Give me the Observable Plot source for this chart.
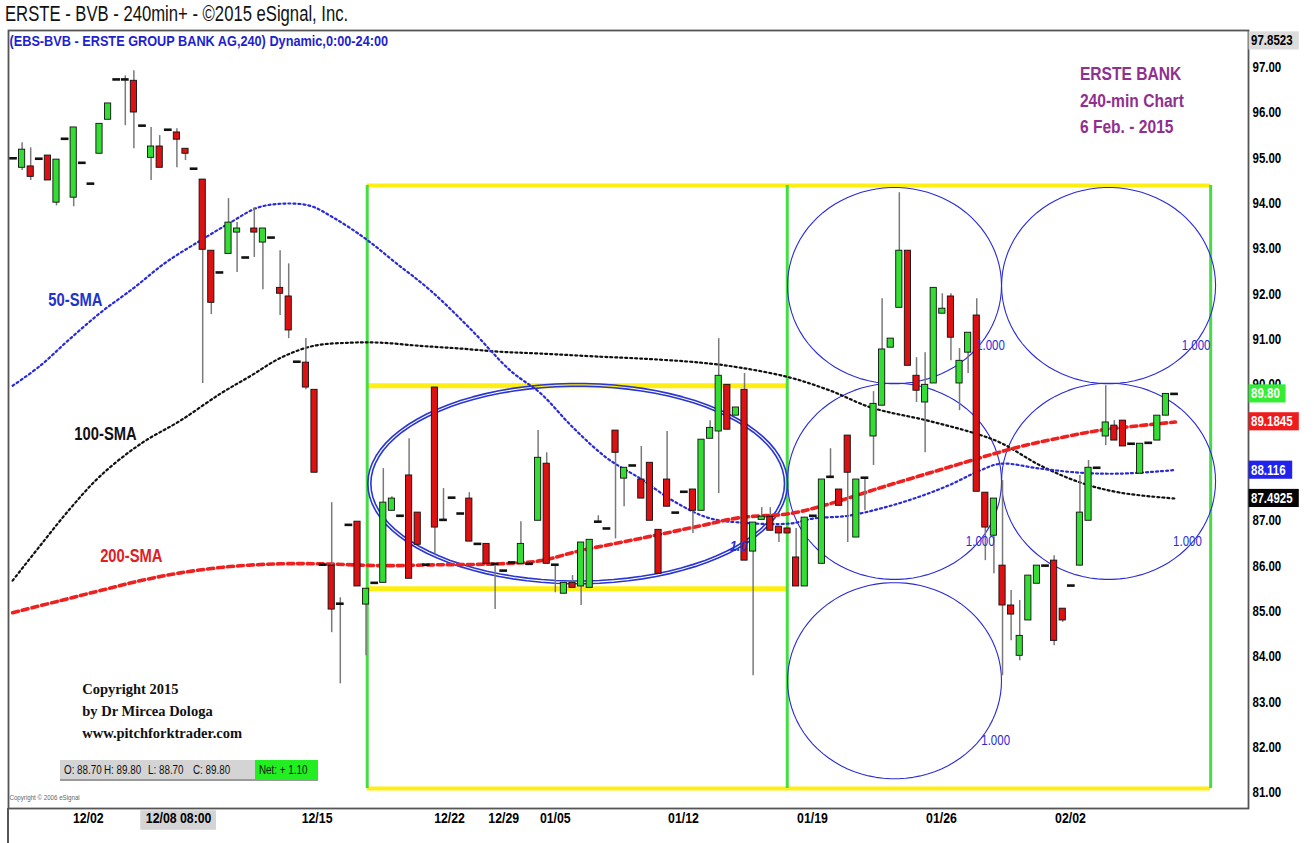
<!DOCTYPE html>
<html><head><meta charset="utf-8">
<script src="https://cdn.jsdelivr.net/npm/d3@7"></script>
<script src="https://cdn.jsdelivr.net/npm/@observablehq/plot@0.6"></script>
<style>
body{margin:0;background:#fff;}
#wrap{position:relative;width:1314px;height:843px;overflow:hidden;background:#fff;}
.nar{font-family:'Liberation Sans',Arial,sans-serif;}
#title{position:absolute;left:5px;top:1px;font-size:22px;color:#111;white-space:nowrap;transform-origin:0 0;}
#chart{position:absolute;left:0;top:30px;}
#ohlc{position:absolute;left:60px;top:760px;width:258px;height:19px;background:#d4d4d4;border-bottom:2px solid #9a9a9a;font-size:12px;color:#111;}
#ohlc span{position:absolute;top:3px;white-space:nowrap;transform:scaleX(0.82);transform-origin:0 0;}
#net{position:absolute;left:195px;top:0;width:63px;height:19px;background:#22ee22;}
#lborder{position:absolute;left:7px;top:808px;width:2px;height:35px;background:#555;}
</style></head>
<body>
<div id="wrap">
  <div id="title" class="nar">ERSTE - BVB - 240min+ - ©2015 eSignal, Inc.</div>
  <div id="chart"></div>
  <div id="lborder"></div>
  <div id="ohlc" class="nar"><div id="net"></div>
    <span style="left:4px">O: 88.70</span><span style="left:44px">H: 89.80</span>
    <span style="left:88px">L: 88.70</span><span style="left:133px">C: 89.80</span>
    <span style="left:199px">Net: + 1.10</span></div>
</div>
<script>
// ---------- candle data (bar index = position in arrays) ----------
const open = [95.00,94.79,94.82,94.99,95.06,94.02,95.43,94.13,94.90,94.44,95.10,95.85,96.74,96.74,96.71,95.72,95.01,95.26,95.63,95.57,
95.21,94.77,94.53,92.96,92.48,92.89,93.36,92.81,93.45,93.14,93.25,92.14,91.95,90.51,90.49,89.89,86.03,86.01,85.17,86.91,
86.98,85.15,85.63,85.63,87.22,87.11,88.00,87.18,86.03,89.94,87.02,87.51,87.16,87.49,86.49,86.49,86.05,85.90,86.08,86.05,
86.05,87.00,88.26,86.03,85.39,85.63,85.55,85.52,86.98,86.83,88.99,87.93,88.22,87.91,88.28,86.80,87.91,87.18,87.64,87.69,
87.22,88.81,88.97,90.00,89.32,89.89,86.32,87.02,87.09,86.87,86.83,86.19,85.55,87.11,86.05,87.97,87.69,88.88,86.63,87.95,
88.86,89.54,90.82,91.70,92.96,90.20,89.61,90.03,91.57,91.95,90.03,90.71,91.53,87.62,86.67,86.01,85.13,84.02,84.80,85.61,
86.01,86.12,85.06,85.57,86.01,87.00,88.17,88.86,89.10,89.21,88.70,88.04,88.72,88.77,89.32,89.80];
const high = [95.00,95.34,95.23,94.99,95.06,94.97,95.43,95.68,94.90,94.44,95.76,96.21,96.74,96.82,96.93,95.72,95.68,95.50,95.63,95.65,
95.21,94.77,94.53,92.96,92.48,94.11,93.58,92.81,93.91,93.45,93.25,92.96,92.67,90.51,91.02,89.89,86.03,87.40,85.30,86.91,
86.98,85.50,85.63,88.15,87.53,87.11,88.81,87.18,86.03,89.94,87.71,87.51,87.16,87.62,86.49,86.49,86.05,85.90,86.08,86.98,
86.05,88.99,88.50,86.03,85.63,85.79,86.52,86.58,87.11,86.83,88.99,88.17,88.22,88.64,88.28,86.80,88.97,87.18,87.64,87.69,
88.79,89.21,91.02,90.00,89.50,90.25,86.96,87.29,87.29,86.87,86.83,86.83,87.07,87.11,87.91,88.59,87.69,88.88,87.91,87.95,
89.85,91.90,91.02,94.24,92.96,90.60,90.71,92.14,92.01,92.01,90.80,91.15,91.90,87.62,87.49,87.89,85.46,85.24,85.79,86.01,
86.01,86.23,85.06,85.57,88.00,88.33,88.17,89.98,89.21,89.21,88.70,88.70,88.72,89.32,89.80,89.80];
const low = [95.00,94.73,94.51,94.99,94.51,93.95,95.43,93.93,94.90,94.44,95.10,95.85,96.74,95.72,95.21,95.72,94.51,94.79,95.63,94.79,
94.95,94.77,90.03,91.55,92.48,92.89,92.48,92.81,92.81,92.10,93.25,91.53,91.02,90.51,89.89,88.06,86.03,84.53,83.40,86.91,
85.55,84.02,85.63,85.63,87.22,87.11,85.72,86.47,86.03,86.27,87.02,87.51,87.16,86.54,86.49,86.05,85.04,85.90,86.08,86.05,
86.05,87.00,86.05,85.41,85.39,85.52,85.13,85.52,86.98,86.83,86.60,87.31,88.22,87.49,87.00,85.83,87.31,87.18,87.64,86.72,
87.22,88.81,87.60,89.01,89.32,86.12,83.58,87.02,86.78,86.52,86.72,85.55,85.55,87.11,86.05,87.97,87.33,86.52,86.63,87.22,
88.22,89.54,90.82,91.70,90.42,89.61,88.50,90.03,91.57,90.53,89.43,90.25,87.64,86.12,85.83,83.58,84.35,83.91,84.80,85.61,
86.01,84.24,84.76,85.57,86.01,87.00,88.17,88.66,88.77,88.64,88.70,88.04,88.72,88.77,89.32,89.80];
const close = [95.00,95.19,94.59,94.99,94.51,94.97,95.43,95.68,94.90,94.44,95.76,96.21,96.74,96.74,96.01,95.72,95.26,94.79,95.63,95.41,
95.10,94.77,92.98,91.81,92.48,93.58,93.45,92.81,93.36,93.45,93.25,92.01,91.20,90.51,89.94,88.06,86.03,85.04,85.17,86.91,
85.55,85.50,85.63,87.40,87.49,87.11,85.72,86.47,86.03,86.85,87.02,87.51,87.16,86.54,86.49,86.05,86.05,85.90,86.08,86.49,
86.05,88.39,86.05,86.03,85.63,85.52,86.52,86.58,86.98,86.83,88.50,88.17,88.22,87.49,87.00,85.83,87.31,87.18,87.64,87.22,
88.79,89.05,90.20,89.01,89.50,86.12,86.96,87.09,86.78,86.72,86.72,85.55,87.07,87.11,87.91,87.97,87.33,88.06,87.91,87.95,
89.58,90.78,91.02,92.96,90.42,89.87,90.00,92.14,91.68,91.04,90.53,91.15,87.64,86.85,87.49,85.13,84.93,84.46,85.79,86.01,
86.01,84.35,84.80,85.57,87.18,88.17,88.17,89.17,88.77,88.64,88.70,88.70,88.72,89.32,89.80,89.80];

// ---------- moving averages ----------
const sma50X = [-0.1,3.1,6.3,10.1,14.0,17.7,21.7,25.2,28.4,31.4,34.5,37.2,40.9,44.4,48.5,53.1,57.8,61.3,65.1,69.1,72.9,76.7,80.7,84.5,90.3,93.0,97.0,100.8,104.7,108.6,112.4,114.8,119.4,124.1,128.7,135.1];
const sma50Y = [89.98,90.42,90.97,91.59,92.14,92.70,93.18,93.58,93.91,94.00,93.95,93.69,93.23,92.70,92.08,91.24,90.31,89.81,89.05,88.37,87.93,87.44,87.07,86.96,86.94,87.05,87.11,87.27,87.49,87.77,88.11,88.26,88.15,88.06,88.04,88.12];
const sma100X = [-0.1,3.1,6.6,10.1,14.8,19.4,24.1,27.6,31.1,34.9,39.2,42.7,47.3,52.0,56.6,61.3,68.3,72.9,79.9,84.5,90.3,95.0,99.7,106.3,111.6,114.8,119.4,124.1,128.7,135.1];
const sma100Y = [85.68,86.45,87.27,87.99,88.70,89.21,89.81,90.20,90.60,90.86,90.93,90.93,90.86,90.80,90.73,90.69,90.62,90.58,90.49,90.38,90.16,89.87,89.50,89.21,88.94,88.72,88.22,87.84,87.62,87.49];
const sma200X = [-0.1,5.5,10.1,14.8,19.4,25.2,31.1,35.7,42.7,49.7,56.6,61.3,65.9,72.9,79.9,84.5,90.3,95.0,100.8,106.6,112.4,117.1,121.7,126.4,131.0,135.1];
const sma200Y = [84.97,85.24,85.46,85.68,85.85,85.99,86.05,86.05,86.01,86.03,86.05,86.12,86.34,86.61,86.89,87.07,87.16,87.38,87.73,88.06,88.39,88.64,88.83,89.00,89.10,89.18];

// ---------- axis ticks ----------
const xTickPos = [8.7,19.2,35.3,50.7,57.0,63.0,77.9,92.9,107.9,122.9];
const xTickLabels = ["12/02","12/08 08:00","12/15","12/22","12/29","01/05","01/12","01/19","01/26","02/02"];
const yTicks = [81,82,83,84,85,86,87,90,91,92,93,94,95,96,97];

// ---------- price tags on the right ----------
const tagValues = [97.8523, 89.80, 89.1845, 88.116, 87.4925];
const tagLabels = ["97.8523","89.80","89.1845","88.116","87.4925"];

// ---------- drawn objects (boxes, ellipse, circles) ----------
const boxTop = 94.40, boxBottom = 81.09, innerTop = 89.98, innerBottom = 85.50;
const boxXs = [41.13, 89.97, 139.2];
const ellCenter = [65.6, 87.82], ellRadii = [24.4, 2.21];
const circleX = [102.44, 102.44, 102.44, 127.33, 127.33];
const circleY = [92.19, 87.87, 83.47, 92.19, 87.87];
const circleRadii = [12.44, 2.165];
const fibLabelX = [113.6, 112.4, 114.2, 137.5, 136.5];
const fibLabelY = [90.86, 86.54, 82.15, 90.86, 86.54];

// ---------- texts ----------
const smaNames = ["50-SMA","100-SMA","200-SMA"];
const smaNameX = [7.2, 10.7, 13.7];
const smaNameY = [91.86, 88.92, 86.21];
const infoLines = ["ERSTE BANK","240-min Chart","6 Feb. - 2015"];
const infoY = [96.87, 96.27, 95.70];
const copyLines = ["Copyright 2015","by Dr Mircea Dologa","www.pitchforktrader.com"];
const copyY = [83.29, 82.79, 82.30];

const FONT = "'Liberation Sans',Arial,sans-serif";
const SERIF = "'Liberation Serif','Times New Roman',serif";
const SQUEEZE = 0.82;
const X_DOMAIN = [-0.58, 143.6];
const Y_DOMAIN = [80.65, 97.82];

const candles = open.map((o, i) => ({i, o, h: high[i], l: low[i], c: close[i]}));
const bodiesUp = candles.filter(d => d.c > d.o);
const bodiesDn = candles.filter(d => d.c < d.o);
const dashes = candles.filter(d => d.c === d.o);
const wicks = candles.filter(d => d.h > d.l);
const pts = (xs, ys) => ys.map((y, k) => ({x: xs[k], y}));

function ellipsePts(cx, cy, rx, ry, k) {
  return d3.range(0, 364, 4).map(a => ({x: cx + rx * Math.cos(a * Math.PI / 180), y: cy + ry * Math.sin(a * Math.PI / 180), k}));
}
const ellData = [...ellipsePts(ellCenter[0], ellCenter[1], ellRadii[0], ellRadii[1], "a"),
                 ...ellipsePts(ellCenter[0], ellCenter[1], ellRadii[0] - 0.35, ellRadii[1] - 0.06, "b")];
const circData = circleX.flatMap((cx, k) => ellipsePts(cx, circleY[k], circleRadii[0], circleRadii[1], "c" + k));

const xEnd = X_DOMAIN[1];
const tags = tagValues.map((v, k) => ({
  v, label: tagLabels[k],
  pos: v > Y_DOMAIN[1] - 0.3 ? Y_DOMAIN[1] - 0.23 : v
}));
const tagStyle = [["#dcdcdc","#000"],["#33ee33","#fff"],["#ee1c1c","#fff"],["#2222ee","#fff"],["#050505","#fff"]];
const tagMarks = tags.flatMap((t, k) => [
  Plot.rect([t], {x1: xEnd + 0.07, x2: xEnd + 0.07 + (t.label.length * 6.6 + 4) / 8.6, y1: t.pos - 0.2, y2: t.pos + 0.2, fill: tagStyle[k][0]}),
  Plot.text([t], {x: xEnd + 0.3, y: "pos", text: "label", textAnchor: "start", fill: tagStyle[k][1], fontSize: 14, fontWeight: "bold"})
]);

const chart = Plot.plot({
  width: 1314, height: 813,
  marginLeft: 8, marginRight: 66, marginTop: 0, marginBottom: 35,
  x: {domain: X_DOMAIN},
  y: {domain: Y_DOMAIN},
  style: {fontFamily: FONT, background: "white", overflow: "visible", fontWeight: "bold"},
  marks: [
    Plot.rect([0], {x1: xTickPos[1] - 4.4, x2: xTickPos[1] + 4.4, y1: 80.17, y2: 80.60, fill: "#d4d4d4"}),
    Plot.axisX(xTickPos, {anchor: "bottom", tickSize: 0, tickPadding: 4, fontSize: 15, fontWeight: "bold",
      tickFormat: d => xTickLabels[xTickPos.indexOf(d)]}),
    Plot.axisY(yTicks, {anchor: "right", tickSize: 0, tickPadding: 4, fontSize: 14, fontWeight: "bold", tickFormat: ".2f"}),
    // box lines
    Plot.ruleY([boxTop, boxBottom], {x1: boxXs[0], x2: boxXs[2], stroke: "#ffee11", strokeWidth: 4}),
    Plot.ruleY([innerTop, innerBottom], {x1: boxXs[0], x2: boxXs[1], stroke: "#ffee11", strokeWidth: 5}),
    Plot.ruleX(boxXs, {y1: boxBottom, y2: boxTop, stroke: "#44dd44", strokeWidth: 3}),
    // circles and ellipse
    Plot.line(circData, {x: "x", y: "y", z: "k", stroke: "#2b2bd6", strokeWidth: 1.1}),
    Plot.line(ellData, {x: "x", y: "y", z: "k", stroke: "#2a36d0", strokeWidth: 1.6}),
    // moving averages
    Plot.line(pts(sma100X, sma100Y), {x: "x", y: "y", curve: "catmull-rom", stroke: "#111", strokeWidth: 2.2, strokeDasharray: "2,3"}),
    Plot.line(pts(sma50X, sma50Y), {x: "x", y: "y", curve: "catmull-rom", stroke: "#2a2ad6", strokeWidth: 2.2, strokeDasharray: "2,3"}),
    Plot.line(pts(sma200X, sma200Y), {x: "x", y: "y", curve: "catmull-rom", stroke: "#ee2020", strokeWidth: 3.6, strokeDasharray: "6,4"}),
    // candles
    Plot.ruleX(wicks, {x: "i", y1: "l", y2: "h", stroke: "#7a7a7a", strokeWidth: 1.5}),
    Plot.rect(bodiesUp, {x1: d => d.i - 0.36, x2: d => d.i + 0.36, y1: "o", y2: "c", fill: "#33dd33", stroke: "#111", strokeWidth: 0.9}),
    Plot.rect(bodiesDn, {x1: d => d.i - 0.36, x2: d => d.i + 0.36, y1: "o", y2: "c", fill: "#dd1111", stroke: "#111", strokeWidth: 0.9}),
    Plot.ruleY(dashes, {x1: d => d.i - 0.45, x2: d => d.i + 0.45, y: "c", stroke: "#111", strokeWidth: 2.6}),
    // fib labels
    Plot.text(fibLabelX.map((x, k) => ({x, y: fibLabelY[k]})), {x: "x", y: "y", text: () => "1.000", fill: "#2b2bd6", fontSize: 14, fontWeight: "normal"}),
    Plot.text([{x: 84.3, y: 86.45}], {x: "x", y: "y", text: () => "1.0", fill: "#2b2bd6", fontSize: 15, fontStyle: "italic"}),
    // annotations
    Plot.text(smaNames.map((t, k) => ({t, x: smaNameX[k], y: smaNameY[k], k})).filter(d => d.k === 0), {x: "x", y: "y", text: "t", fill: "#2233cc", fontSize: 18, fontWeight: "bold"}),
    Plot.text(smaNames.map((t, k) => ({t, x: smaNameX[k], y: smaNameY[k], k})).filter(d => d.k === 1), {x: "x", y: "y", text: "t", fill: "#111", fontSize: 18, fontWeight: "bold"}),
    Plot.text(smaNames.map((t, k) => ({t, x: smaNameX[k], y: smaNameY[k], k})).filter(d => d.k === 2), {x: "x", y: "y", text: "t", fill: "#e02020", fontSize: 18, fontWeight: "bold"}),
    Plot.text(infoLines.map((t, k) => ({t, y: infoY[k]})), {x: 124.0, y: "y", text: "t", textAnchor: "start", fill: "#912f91", fontSize: 19, fontWeight: "bold"}),
    Plot.text(copyLines.map((t, k) => ({t, y: copyY[k]})), {x: 8.0, y: "y", text: "t", textAnchor: "start", fill: "#111", fontSize: 14.5, fontWeight: "bold", fontFamily: SERIF}),
    Plot.text(["(EBS-BVB - ERSTE GROUP BANK AG,240) Dynamic,0:00-24:00"], {frameAnchor: "top-left", text: d => d, dx: 1, dy: 4, fill: "#1f1fd0", fontSize: 15.5, fontWeight: "bold"}),
    Plot.text(["Copyright © 2006 eSignal"], {frameAnchor: "bottom-left", text: d => d, dx: 1, dy: -9, fill: "#666", fontSize: 7.5, fontWeight: "normal"}),
    Plot.frame({stroke: "#555", strokeWidth: 1.8}),
    ...tagMarks
  ]
});
document.getElementById("chart").appendChild(chart);

// narrow the sans-serif lettering (the reference uses a condensed face)
chart.querySelectorAll("text").forEach(el => {
  const g = el.closest("g");
  const ff = (g && g.getAttribute("font-family")) || "";
  if (ff.includes("Serif")) return;
  const targets = el.querySelector("tspan") ? el.querySelectorAll("tspan") : [el];
  targets.forEach(t => {
    const w = t.getComputedTextLength();
    if (w > 0) { t.setAttribute("textLength", (w * SQUEEZE).toFixed(2)); t.setAttribute("lengthAdjust", "spacingAndGlyphs"); }
  });
});
const title = document.getElementById("title");
title.style.transform = `scaleX(${(343 / title.offsetWidth).toFixed(3)})`;
</script>
</body></html>
